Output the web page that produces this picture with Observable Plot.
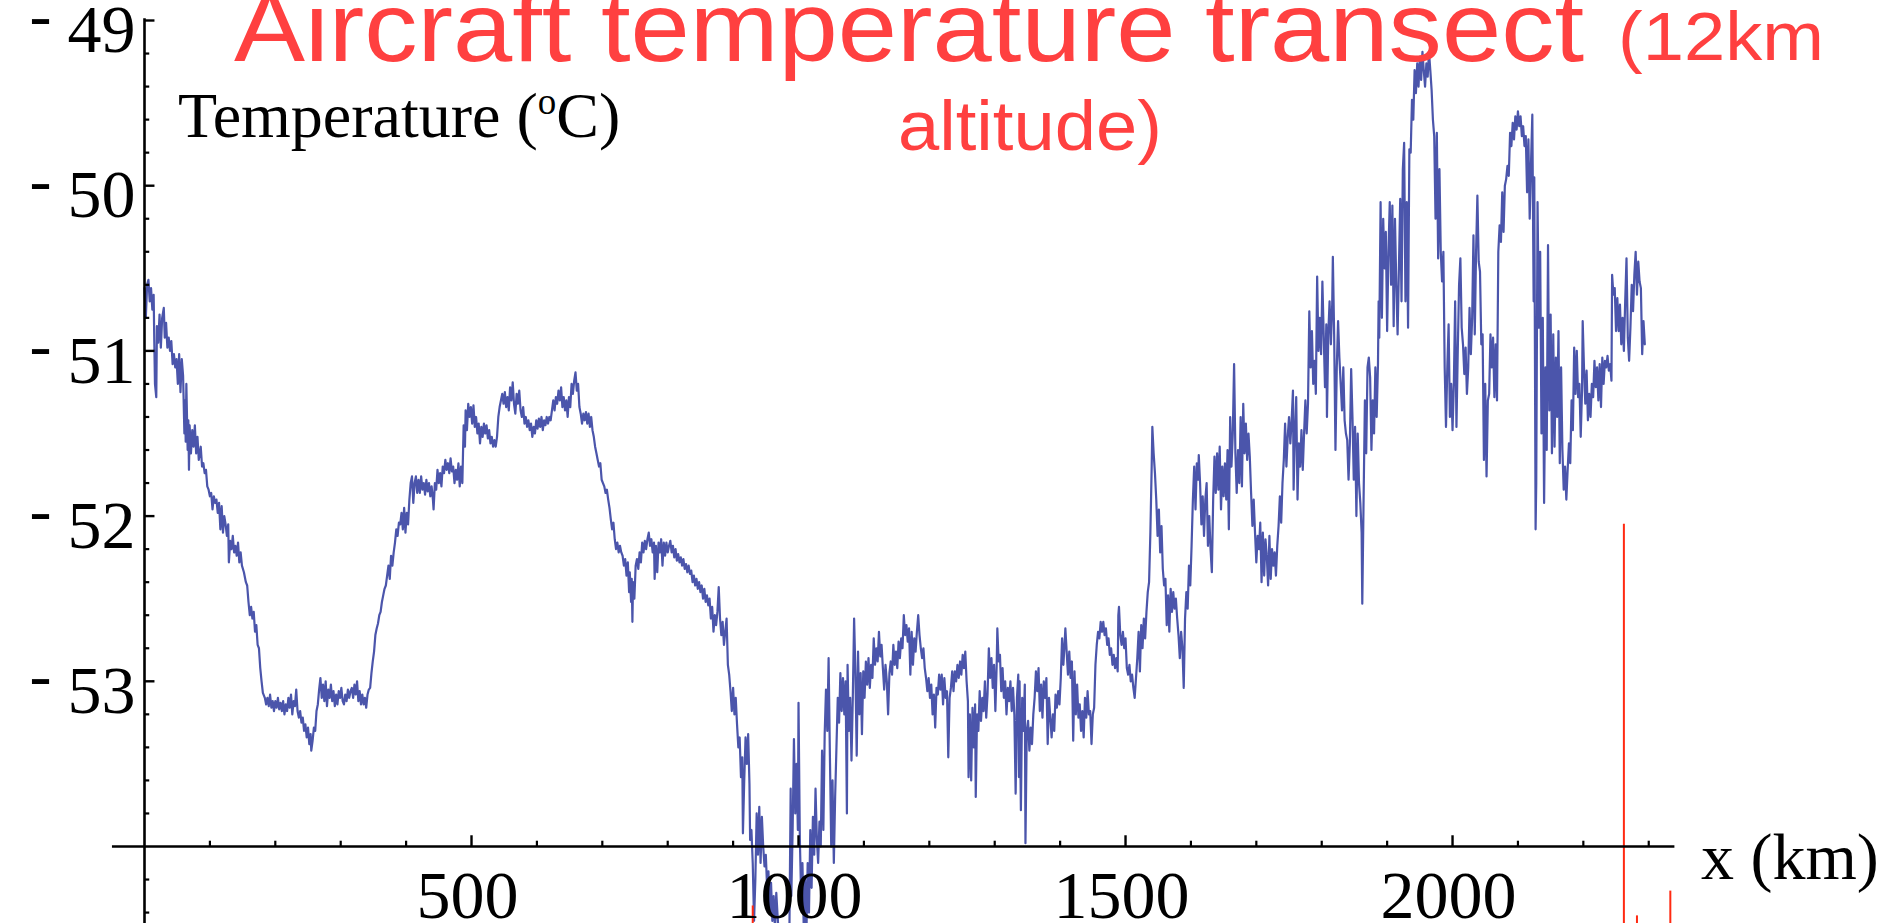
<!DOCTYPE html>
<html>
<head>
<meta charset="utf-8">
<script src="https://cdn.jsdelivr.net/npm/d3@7"></script>
<script src="https://cdn.jsdelivr.net/npm/@observablehq/plot@0.6"></script>
<style>
  html, body { margin: 0; padding: 0; background: #fff; }
  #chart { width: 1881px; height: 923px; overflow: hidden; }
</style>
</head>
<body>
<div id="chart"></div>
<script>
// ---- Data: distance along transect (km), temperature (°C) ----
const section1 = [[0,-50.62],[2,-50.80],[4,-50.60],[6,-50.57],[8,-50.70],[10,-50.62],[12,-50.75],[14,-50.66],[15,-50.95],[16,-51.20],[18,-51.28],[19,-50.85],[21,-50.95],[23,-50.78],[25,-50.98],[27,-50.80],[29.5,-50.74],[31,-50.92],[33,-50.83],[35,-50.98],[37,-50.92],[39,-51.00],[41,-50.94],[43,-51.08],[45,-51.02],[47,-51.10],[49,-51.05],[51,-51.20],[53,-51.02],[55,-51.25],[57,-51.05],[59,-51.15],[61,-51.50],[62,-51.30],[63,-51.55],[64,-51.20],[66,-51.60],[67,-51.42],[68,-51.72],[69,-51.45],[71,-51.62],[73,-51.48],[75,-51.58],[77,-51.45],[79,-51.62],[81,-51.52],[83,-51.66],[86,-51.58],[88,-51.70],[90,-51.68],[92,-51.74],[94,-51.72],[96,-51.82],[98,-51.84],[100,-51.88],[102,-51.86],[104,-51.96],[106,-51.88],[108,-51.92],[110,-51.90],[112,-51.98],[114,-51.92],[116,-52.08],[118,-51.94],[120,-52.10],[122,-52.00],[124,-52.05],[126,-52.12],[128,-52.05],[129,-52.28],[131,-52.15],[133,-52.20],[135,-52.12],[137,-52.22],[139,-52.18],[141,-52.24],[143,-52.16],[145,-52.28],[147,-52.22],[149,-52.30],[152,-52.34],[155,-52.40],[157,-52.42],[159,-52.52],[161,-52.60],[163,-52.55],[165,-52.62],[167,-52.58],[169,-52.70],[171,-52.66],[173,-52.78],[175,-52.80],[177,-52.92],[179,-53.00],[181,-53.07],[184,-53.10],[186,-53.14],[188,-53.10],[190,-53.15],[192,-53.08],[194,-53.16],[196,-53.12],[198,-53.18],[200,-53.12],[202,-53.16],[204,-53.10],[206,-53.17],[208,-53.13],[210,-53.18],[212,-53.12],[214,-53.20],[216,-53.14],[218,-53.18],[220,-53.10],[222,-53.16],[224,-53.08],[226,-53.20],[228,-53.12],[230,-53.15],[232,-53.05],[234,-53.18],[236,-53.22],[238,-53.18],[240,-53.25],[242,-53.22],[244,-53.30],[246,-53.26],[248,-53.34],[250,-53.28],[252,-53.38],[254,-53.32],[255,-53.42],[257,-53.36],[259,-53.28],[261,-53.30],[263,-53.18],[265,-53.14],[267,-53.05],[269,-52.98],[271,-53.10],[273,-53.02],[275,-53.12],[277,-53.00],[279,-53.15],[281,-53.05],[283,-53.10],[285,-53.02],[287,-53.12],[289,-53.06],[291,-53.15],[293,-53.08],[295,-53.14],[297,-53.06],[299,-53.10],[301,-53.04],[303,-53.12],[305,-53.14],[307,-53.08],[309,-53.12],[311,-53.05],[313,-53.10],[315,-53.06],[317,-53.04],[319,-53.10],[321,-53.02],[323,-53.08],[325,-53.00],[327,-53.12],[329,-53.06],[331,-53.14],[333,-53.08],[335,-53.14],[337,-53.10],[339,-53.16],[341,-53.08],[343,-53.05],[345,-53.04],[347,-52.95],[349,-52.88],[351,-52.82],[353,-52.72],[355,-52.68],[357,-52.65],[359,-52.60],[361,-52.58],[363,-52.52],[365,-52.48],[367,-52.44],[369,-52.42],[371,-52.36],[373,-52.30],[375,-52.38],[377,-52.24],[379,-52.30],[381,-52.22],[383,-52.16],[385,-52.08],[387,-52.12],[389,-52.04],[391,-52.05],[393,-51.98],[395,-52.08],[397,-51.95],[399,-52.10],[401,-51.98],[403,-52.05],[405,-51.90],[407,-51.80],[409,-51.76],[411,-51.92],[413,-51.80],[415,-51.76],[417,-51.86]];
const section2 = [[419,-51.78],[421,-51.86],[423,-51.76],[425,-51.84],[427,-51.80],[429,-51.87],[431,-51.78],[433,-51.85],[435,-51.80],[437,-51.88],[439,-51.82],[441,-51.90],[442,-51.96],[444,-51.80],[446,-51.84],[448,-51.72],[450,-51.80],[452,-51.74],[454,-51.82],[456,-51.70],[458,-51.74],[460,-51.66],[462,-51.72],[464,-51.68],[466,-51.74],[468,-51.65],[470,-51.73],[472,-51.70],[474,-51.80],[476,-51.72],[478,-51.78],[480,-51.68],[482,-51.82],[484,-51.70],[486,-51.80],[487,-51.62],[488,-51.45],[490,-51.58],[491,-51.36],[493,-51.48],[495,-51.32],[497,-51.40],[499,-51.34],[501,-51.44],[503,-51.33],[505,-51.46],[507,-51.40],[509,-51.50],[511,-51.44],[513,-51.56],[515,-51.46],[517,-51.52],[519,-51.44],[521,-51.50],[523,-51.45],[525,-51.53],[527,-51.48],[529,-51.56],[531,-51.52],[533,-51.58],[535,-51.54],[537,-51.58],[539,-51.52],[541,-51.40],[543,-51.34],[545,-51.30],[547,-51.26],[549,-51.32],[551,-51.25],[553,-51.34],[555,-51.28],[557,-51.36],[559,-51.22],[561,-51.30],[563,-51.19],[565,-51.32],[567,-51.38],[569,-51.26],[571,-51.32],[573,-51.24],[575,-51.36],[577,-51.40],[579,-51.34],[581,-51.44],[583,-51.40],[585,-51.46],[587,-51.42],[589,-51.48],[591,-51.44],[593,-51.52],[595,-51.46],[597,-51.50],[599,-51.42],[601,-51.47],[603,-51.41],[605,-51.46],[607,-51.40],[609,-51.48],[611,-51.42],[613,-51.45],[615,-51.40],[617,-51.44],[619,-51.40],[621,-51.42],[623,-51.36],[625,-51.30],[627,-51.36],[629,-51.28],[631,-51.32],[633,-51.24],[635,-51.30],[637,-51.22],[639,-51.34],[641,-51.28],[643,-51.36],[645,-51.30],[647,-51.40],[649,-51.28],[651,-51.34],[653,-51.20],[655,-51.26],[657,-51.18],[659,-51.13],[661,-51.24],[663,-51.20],[665,-51.34],[667,-51.38],[669,-51.44],[671,-51.38],[673,-51.42],[675,-51.37],[677,-51.44],[679,-51.38],[681,-51.46],[683,-51.40],[685,-51.48],[687,-51.52],[689,-51.58],[691,-51.62],[693,-51.66],[695,-51.70],[697,-51.68],[699,-51.78],[701,-51.80],[703,-51.82],[705,-51.86],[707,-51.84],[709,-51.90],[711,-51.95],[713,-52.02],[715,-52.08],[717,-52.04],[719,-52.14],[721,-52.20],[723,-52.16],[725,-52.22],[727,-52.18],[729,-52.22],[731,-52.24],[733,-52.30],[735,-52.26],[737,-52.36],[739,-52.28],[741,-52.46],[742,-52.34],[744,-52.52],[745,-52.38],[746,-52.64],[747,-52.40],[749,-52.50],[751,-52.30],[753,-52.26],[755,-52.32],[757,-52.22],[759,-52.28],[761,-52.16],[763,-52.22],[765,-52.15],[767,-52.20],[769,-52.14],[771,-52.10],[773,-52.18],[775,-52.14],[777,-52.22],[779,-52.16],[780,-52.38],[782,-52.18],[784,-52.34],[786,-52.16],[788,-52.22],[790,-52.14],[792,-52.30],[794,-52.16],[796,-52.24],[798,-52.16],[800,-52.22],[802,-52.18],[804,-52.15],[806,-52.22],[808,-52.18],[810,-52.25],[812,-52.20],[814,-52.27],[816,-52.23],[818,-52.28],[820,-52.25],[822,-52.30],[824,-52.26],[826,-52.32],[828,-52.29],[830,-52.34],[832,-52.30],[834,-52.35],[836,-52.33],[838,-52.40],[840,-52.36],[842,-52.42],[844,-52.38],[846,-52.44],[848,-52.40],[850,-52.46]];
const section3 = [[852,-52.42],[854,-52.50],[856,-52.44],[858,-52.52],[860,-52.48],[862,-52.54],[864,-52.50],[866,-52.62],[868,-52.55],[870,-52.70],[872,-52.60],[874,-52.66],[876,-52.58],[878,-52.43],[880,-52.62],[882,-52.72],[884,-52.64],[886,-52.78],[888,-52.70],[890,-52.62],[892,-52.90],[894,-52.96],[896,-53.06],[898,-53.18],[900,-53.04],[902,-53.20],[904,-53.10],[906,-53.26],[908,-53.40],[910,-53.34],[912,-53.58],[914,-53.46],[915,-53.92],[917,-53.60],[919,-53.34],[921,-53.50],[923,-53.32],[925,-53.62],[926,-53.96],[928,-53.90],[930,-54.10],[932,-54.45],[934,-54.20],[936,-53.80],[938,-54.05],[940,-53.76],[942,-54.10],[944,-53.82],[946,-54.00],[948,-54.12],[950,-54.05],[952,-54.25],[954,-54.15],[956,-54.40],[958,-54.22],[960,-54.45],[962,-54.30],[964,-54.50],[966,-54.28],[968,-54.42],[970,-54.55],[972,-54.60],[974,-54.50],[976,-54.55],[978,-54.62],[982,-54.58],[986,-54.55],[988,-53.65],[989,-54.30],[991,-53.90],[993,-53.35],[995,-53.80],[997,-53.50],[999,-53.90],[1000,-53.13],[1002,-53.95],[1004,-54.30],[1006,-54.10],[1008,-54.50],[1010,-54.20],[1012,-54.55],[1014,-54.10],[1016,-54.40],[1018,-53.90],[1020,-54.25],[1022,-53.82],[1024,-54.05],[1026,-53.65],[1028,-53.95],[1030,-54.10],[1032,-53.85],[1034,-54.00],[1036,-53.42],[1038,-53.90],[1040,-53.32],[1042,-53.05],[1044,-53.30],[1046,-52.86],[1048,-53.45],[1050,-54.00],[1052,-53.60],[1054,-54.10],[1056,-53.70],[1058,-53.40],[1060,-53.10],[1062,-53.25],[1064,-52.95],[1066,-53.18],[1068,-52.98],[1070,-53.20],[1072,-53.00],[1074,-53.80],[1075,-52.90],[1077,-53.30],[1079,-53.10],[1081,-53.48],[1083,-53.10],[1085,-52.62],[1087,-52.95],[1089,-53.45],[1091,-52.82],[1093,-53.20],[1095,-52.95],[1097,-53.32],[1099,-52.94],[1101,-53.10],[1103,-52.88],[1105,-53.02],[1107,-52.86],[1109,-53.04],[1111,-52.90],[1113,-52.98],[1115,-52.74],[1117,-52.90],[1119,-52.80],[1121,-52.88],[1123,-52.70],[1125,-52.85],[1127,-52.78],[1129,-52.92],[1131,-53.05],[1133,-52.90],[1135,-53.00],[1137,-53.20],[1139,-52.95],[1141,-52.88],[1143,-52.96],[1145,-52.78],[1147,-52.90],[1149,-52.82],[1151,-52.92],[1153,-52.76],[1155,-52.86],[1157,-52.74],[1159,-52.80],[1161,-52.60],[1163,-52.72],[1165,-52.66],[1167,-52.76],[1169,-52.68],[1171,-52.96],[1173,-52.70],[1175,-52.90],[1177,-52.74],[1179,-52.82],[1181,-52.70],[1183,-52.60],[1185,-52.72],[1187,-52.80],[1189,-52.86],[1191,-52.80],[1193,-52.92],[1195,-52.98],[1197,-53.06],[1199,-52.98],[1201,-53.10],[1203,-53.02],[1205,-53.20],[1207,-53.08],[1209,-53.28],[1211,-53.04],[1213,-53.08],[1215,-52.96],[1217,-53.05],[1219,-52.96],[1221,-53.14],[1223,-52.98],[1225,-53.10],[1227,-53.06],[1229,-53.46],[1231,-53.10],[1233,-53.04],[1235,-52.94],[1237,-53.06],[1239,-52.94],[1241,-53.00],[1243,-52.90],[1245,-52.98],[1247,-52.88],[1249,-52.96],[1251,-52.84],[1253,-52.92],[1255,-52.82],[1257,-53.00],[1259,-53.12],[1260,-53.58],[1262,-53.20],[1264,-53.60],[1266,-53.16],[1268,-53.40],[1270,-53.14],[1271,-53.70],[1273,-53.20],[1275,-53.30],[1277,-53.06],[1279,-53.24]];
const section4 = [[1281,-53.10],[1283,-53.18],[1285,-53.00],[1287,-53.22],[1289,-53.08],[1291,-52.80],[1293,-52.98],[1295,-52.86],[1297,-53.04],[1299,-52.90],[1301,-53.18],[1303,-52.90],[1304,-52.68],[1306,-52.88],[1308,-52.84],[1310,-53.06],[1312,-52.92],[1314,-53.10],[1316,-53.00],[1318,-53.20],[1320,-53.04],[1322,-53.12],[1324,-53.00],[1326,-53.18],[1328,-53.04],[1330,-53.20],[1332,-53.68],[1334,-53.10],[1336,-52.96],[1337,-53.58],[1338,-53.00],[1340,-53.78],[1342,-53.10],[1344,-53.30],[1346,-53.02],[1347,-53.98],[1349,-53.30],[1351,-53.24],[1353,-53.42],[1355,-53.28],[1357,-53.38],[1359,-53.20],[1361,-53.10],[1363,-52.94],[1365,-53.06],[1367,-52.92],[1369,-53.18],[1371,-53.02],[1373,-53.22],[1375,-53.00],[1377,-53.10],[1379,-52.98],[1381,-53.38],[1383,-53.10],[1385,-53.22],[1387,-53.34],[1389,-53.20],[1391,-53.30],[1393,-53.08],[1395,-53.16],[1397,-53.06],[1399,-53.14],[1401,-52.98],[1403,-52.74],[1405,-52.90],[1407,-52.76],[1408,-52.68],[1410,-52.82],[1412,-52.96],[1414,-52.82],[1416,-52.98],[1418,-52.88],[1420,-53.36],[1422,-52.94],[1424,-53.20],[1426,-53.02],[1428,-53.22],[1430,-53.14],[1432,-53.30],[1434,-53.18],[1436,-53.34],[1438,-53.10],[1440,-53.22],[1442,-53.06],[1444,-53.20],[1446,-53.18],[1448,-53.38],[1450,-53.20],[1452,-53.16],[1454,-52.90],[1456,-52.78],[1458,-52.70],[1460,-52.74],[1462,-52.64],[1464,-52.70],[1466,-52.64],[1468,-52.72],[1470,-52.68],[1472,-52.78],[1474,-52.74],[1476,-52.84],[1478,-52.80],[1480,-52.90],[1482,-52.84],[1484,-52.92],[1486,-52.86],[1488,-52.94],[1489,-52.60],[1490,-52.55],[1492,-52.72],[1494,-52.78],[1496,-52.70],[1498,-52.80],[1500,-52.74],[1502,-52.92],[1504,-52.96],[1506,-52.90],[1508,-53.00],[1510,-52.96],[1512,-53.04],[1514,-53.10],[1516,-52.98],[1518,-52.86],[1520,-52.70],[1522,-52.94],[1524,-52.66],[1526,-52.80],[1528,-52.62],[1530,-52.74],[1532,-52.58],[1534,-52.46],[1536,-52.40],[1538,-52.10],[1540,-51.70],[1541,-51.46],[1543,-51.62],[1545,-51.74],[1547,-51.90],[1549,-52.12],[1551,-51.96],[1553,-52.22],[1555,-52.06],[1557,-52.32],[1559,-52.42],[1561,-52.38],[1563,-52.66],[1565,-52.48],[1567,-52.70],[1569,-52.44],[1571,-52.58],[1573,-52.46],[1575,-52.56],[1577,-52.50],[1579,-52.62],[1581,-52.72],[1583,-52.86],[1585,-52.70],[1587,-52.80],[1589,-53.04],[1591,-52.62],[1593,-52.46],[1595,-52.56]];
const section5 = [[1597,-52.30],[1599,-52.42],[1601,-52.18],[1603,-51.90],[1605,-51.70],[1607,-51.96],[1609,-51.68],[1611,-51.78],[1612,-51.63],[1614,-51.80],[1616,-52.05],[1618,-51.88],[1620,-52.12],[1622,-51.90],[1624,-51.80],[1626,-52.18],[1628,-52.00],[1630,-52.20],[1632,-52.34],[1634,-51.90],[1636,-51.64],[1638,-51.86],[1640,-51.62],[1642,-51.84],[1644,-51.58],[1646,-51.96],[1648,-51.70],[1650,-51.88],[1652,-51.68],[1654,-51.90],[1656,-51.60],[1658,-52.08],[1660,-51.40],[1662,-51.70],[1664,-51.50],[1666,-51.08],[1668,-51.62],[1670,-51.86],[1672,-51.60],[1674,-51.80],[1676,-51.40],[1678,-51.82],[1680,-51.32],[1682,-51.62],[1684,-51.44],[1686,-51.66],[1688,-51.50],[1690,-51.64],[1692,-51.86],[1694,-52.06],[1696,-51.90],[1698,-52.10],[1700,-52.28],[1702,-52.12],[1704,-52.20],[1706,-52.04],[1708,-52.40],[1710,-52.10],[1712,-52.36],[1714,-52.14],[1716,-52.24],[1718,-52.42],[1720,-52.12],[1722,-52.38],[1724,-52.20],[1726,-52.30],[1728,-52.22],[1730,-52.36],[1732,-52.18],[1734,-52.06],[1736,-51.88],[1738,-52.04],[1740,-51.80],[1742,-51.66],[1744,-51.44],[1746,-51.70],[1748,-51.52],[1750,-51.40],[1752,-51.56],[1754,-51.42],[1756,-51.24],[1757,-51.84],[1759,-51.50],[1761,-51.28],[1763,-51.90],[1765,-51.56],[1767,-51.70],[1769,-51.48],[1771,-51.72],[1773,-51.50],[1775,-51.30],[1777,-51.50],[1779,-51.32],[1781,-50.76],[1783,-51.10],[1785,-50.88],[1787,-51.20],[1789,-51.06],[1791,-51.26],[1793,-50.55],[1795,-51.00],[1797,-50.80],[1799,-51.02],[1801,-50.58],[1803,-50.90],[1805,-51.22],[1807,-50.84],[1808,-51.40],[1810,-50.90],[1812,-50.70],[1814,-50.96],[1816,-50.72],[1817,-50.43],[1819,-50.90],[1821,-51.60],[1823,-51.10],[1825,-50.82],[1827,-51.04],[1829,-51.20],[1831,-51.36],[1833,-51.10],[1835,-51.42],[1837,-51.50],[1839,-51.54],[1841,-51.78],[1843,-51.56],[1845,-51.11],[1847,-51.40],[1849,-51.78],[1851,-51.46],[1853,-52.00],[1855,-51.50],[1857,-51.80],[1859,-51.92],[1861,-52.10],[1862,-52.53],[1864,-51.90],[1866,-51.30],[1868,-51.62],[1870,-51.10],[1872,-51.04],[1874,-51.16],[1876,-51.60],[1878,-51.30],[1880,-51.50],[1882,-51.10],[1884,-51.40],[1886,-51.08],[1887,-50.70],[1888,-50.92]];
const section6 = [[1890,-50.10],[1892,-50.80],[1894,-50.20],[1896,-50.50],[1898,-50.28],[1900,-50.88],[1902,-50.40],[1904,-50.10],[1906,-50.60],[1908,-50.12],[1910,-50.85],[1912,-50.20],[1914,-50.60],[1916,-50.90],[1918,-50.50],[1920,-50.08],[1922,-50.70],[1924,-49.90],[1926,-49.74],[1928,-50.70],[1930,-50.10],[1932,-50.86],[1934,-49.78],[1936,-49.80],[1938,-49.48],[1940,-49.60],[1942,-49.30],[1944,-49.44],[1946,-49.26],[1948,-49.40],[1950,-49.22],[1952,-49.36],[1954,-49.19],[1956,-49.30],[1958,-49.40],[1960,-49.26],[1962,-49.34],[1964,-49.19],[1966,-49.30],[1968,-49.42],[1970,-49.60],[1972,-49.70],[1974,-50.20],[1976,-49.68],[1978,-50.44],[1980,-49.90],[1982,-50.40],[1984,-50.58],[1986,-50.40],[1988,-51.10],[1990,-51.46],[1992,-51.10],[1994,-50.84],[1996,-51.40],[1998,-51.20],[2000,-51.48],[2002,-51.20],[2004,-50.70],[2006,-51.46],[2008,-51.00],[2010,-50.60],[2012,-50.44],[2014,-50.86],[2016,-50.96],[2018,-51.14],[2020,-50.98],[2022,-51.26],[2024,-51.10],[2026,-50.74],[2028,-51.02],[2030,-50.80],[2032,-50.30],[2034,-50.90],[2036,-50.40],[2038,-50.06],[2040,-50.46],[2042,-50.52],[2044,-50.96],[2046,-50.90],[2048,-51.66],[2050,-51.20],[2052,-51.76],[2054,-51.30],[2056,-51.26],[2058,-50.90],[2060,-51.10],[2062,-50.92],[2064,-51.28],[2066,-50.96],[2068,-51.30],[2070,-50.40],[2072,-50.24],[2074,-50.34],[2076,-50.04],[2078,-50.28],[2080,-50.00],[2082,-49.96],[2084,-49.88],[2086,-49.94],[2088,-49.68],[2090,-49.76],[2092,-49.62],[2094,-49.72],[2096,-49.58],[2098,-49.66],[2100,-49.55],[2102,-49.64],[2104,-49.58],[2106,-49.70],[2108,-49.64],[2110,-49.76],[2112,-49.70],[2114,-50.04],[2116,-49.72],[2118,-50.20],[2120,-49.86],[2122,-49.57],[2124,-50.70],[2125,-49.95],[2127,-52.08],[2128,-51.80],[2130,-50.10],[2132,-50.86],[2134,-50.40],[2136,-51.50],[2138,-50.80],[2140,-51.92],[2142,-51.10],[2144,-51.60],[2146,-50.36],[2148,-51.36],[2150,-50.78],[2152,-51.62],[2154,-50.90],[2156,-51.58],[2158,-51.04],[2160,-51.40],[2162,-50.88],[2164,-51.68],[2166,-51.10],[2168,-51.60],[2170,-51.84],[2172,-51.70],[2174,-51.90],[2176,-51.72],[2178,-51.56],[2180,-51.68],[2182,-51.30],[2184,-51.48],[2186,-50.98],[2188,-51.26],[2190,-51.00],[2192,-51.28],[2194,-51.20],[2196,-51.52],[2198,-51.24],[2199,-50.82],[2201,-51.10],[2203,-51.32],[2205,-51.12],[2207,-51.42],[2209,-51.26],[2211,-51.40],[2213,-51.20],[2215,-51.28],[2217,-51.06],[2219,-51.22],[2221,-51.10],[2223,-51.30],[2225,-51.08],[2227,-51.34],[2229,-51.04],[2231,-51.20],[2233,-51.06],[2235,-51.10],[2237,-51.03],[2239,-51.12],[2241,-51.08],[2243,-51.18],[2244,-50.54],[2246,-50.66],[2248,-50.62],[2250,-50.88],[2252,-50.68],[2254,-50.88],[2256,-50.72],[2258,-50.96],[2260,-50.80],[2262,-51.00],[2264,-50.70],[2266,-50.44],[2268,-50.92],[2270,-51.06],[2272,-50.86],[2274,-50.60],[2276,-50.76],[2278,-50.54],[2280,-50.40],[2282,-50.66],[2284,-50.46],[2286,-50.58],[2288,-50.62],[2290,-51.02],[2292,-50.82],[2294,-50.96]];

// stray red strokes visible in the slide: [km, top temperature]
const redStrokes = [[2262,-52.05],[930,-54.36],[2282,-54.42],[2333,-54.27]];

// axis ticks and labels
const yLabelValues = [-49, -50, -51, -52, -53];
const yMinorTicks = d3.range(1, 28).filter(i => i % 5 !== 0).map(i => -49 - i * 0.2);
const xLabelValues = [500, 1000, 1500, 2000];
const xMinorTicks = [100, 200, 300, 400, 600, 700, 800, 900, 1100, 1200, 1300, 1400, 1600, 1700, 1800, 1900, 2100, 2200, 2300];

const transect = [...section1, ...section2, ...section3, ...section4, ...section5, ...section6];

const serif = "'Liberation Serif', 'Times New Roman', serif";
const sans = "'Liberation Sans', Arial, sans-serif";
const axisColor = "#000";

const chart = Plot.plot({
  width: 1881,
  height: 923,
  marginTop: 0, marginRight: 0, marginBottom: 0, marginLeft: 0,
  x: {domain: [0, 2340], range: [144, 1674.4], axis: null},
  y: {domain: [-54, -49], range: [846, 20], axis: null},
  style: {background: "white", overflow: "hidden"},
  marks: [
    // data line
    Plot.line(transect, {x: d => d[0], y: d => d[1], stroke: "#4b55ab", strokeWidth: 2.2, clip: true}),
    // stray red strokes
    Plot.ruleX(redStrokes, {x: d => d[0], y1: d => d[1], y2: -54.6, stroke: "#ff2a12", strokeWidth: 2, clip: true}),
    // y axis line and ticks (pointing right)
    Plot.ruleX([0], {y1: -48.99, y2: -54.6, stroke: axisColor, strokeWidth: 2.6, clip: true}),
    Plot.ruleY(yLabelValues, {y: d => d, x1: 0, x2: 16, stroke: axisColor, strokeWidth: 2.4}),
    Plot.ruleY(yMinorTicks, {y: d => d, x1: 0, x2: 8, stroke: axisColor, strokeWidth: 2.2, clip: true}),
    // x axis line and ticks (pointing up)
    Plot.ruleY([-54], {x1: -49, x2: 2340, stroke: axisColor, strokeWidth: 2.6}),
    Plot.ruleX(xLabelValues, {x: d => d, y1: -54, y2: -53.935, stroke: axisColor, strokeWidth: 2.4}),
    Plot.ruleX(xMinorTicks, {x: d => d, y1: -54, y2: -53.968, stroke: axisColor, strokeWidth: 2.2}),
    // y tick labels: dash + number
    Plot.text(yLabelValues, {x: 0, y: d => d, text: () => "-", dx: -104, dy: -5, fontSize: 66, fontFamily: serif, fill: "#000"}),
    Plot.text(yLabelValues, {x: 0, y: d => d, text: d => String(-d), textAnchor: "end", dx: -9, dy: 10, fontSize: 68, fontFamily: serif, fill: "#000"}),
    // x tick labels
    Plot.text(xLabelValues, {x: d => d, y: -54, text: d => String(d), dx: -4, dy: 50, fontSize: 68, fontFamily: serif, fill: "#000"}),
    // x axis title
    Plot.text(["x (km)"], {x: () => 2340, y: () => -54, text: d => d, textAnchor: "start", dx: 26, dy: 11, fontSize: 66, fontFamily: serif, fill: "#000"})
  ]
});

document.getElementById("chart").appendChild(chart);

// Annotations: red slide title and the y-axis caption (with superscript "o")
const svg = d3.select(chart);
const red = "#ff4040";
const notes = svg.append("g").attr("text-anchor", "start");
notes.append("text")
  .attr("x", 234).attr("y", 61).attr("text-anchor", "start")
  .attr("font-family", sans).attr("font-size", 98).attr("fill", red)
  .attr("textLength", 1350).attr("lengthAdjust", "spacingAndGlyphs")
  .text("Aircraft temperature transect");
notes.append("text")
  .attr("x", 1618).attr("y", 60).attr("text-anchor", "start")
  .attr("font-family", sans).attr("font-size", 68).attr("fill", red)
  .attr("textLength", 206).attr("lengthAdjust", "spacingAndGlyphs")
  .text("(12km");
notes.append("text")
  .attr("x", 898).attr("y", 150).attr("text-anchor", "start")
  .attr("font-family", sans).attr("font-size", 70).attr("fill", red)
  .attr("textLength", 264).attr("lengthAdjust", "spacingAndGlyphs")
  .text("altitude)");

const cap = notes.append("text")
  .attr("x", 178).attr("y", 137).attr("text-anchor", "start")
  .attr("font-family", serif).attr("font-size", 64).attr("fill", "#000");
cap.append("tspan").text("Temperature (");
cap.append("tspan").attr("font-size", 37).attr("dy", -23).text("o");
cap.append("tspan").attr("dy", 23).text("C)");
</script>
</body>
</html>
